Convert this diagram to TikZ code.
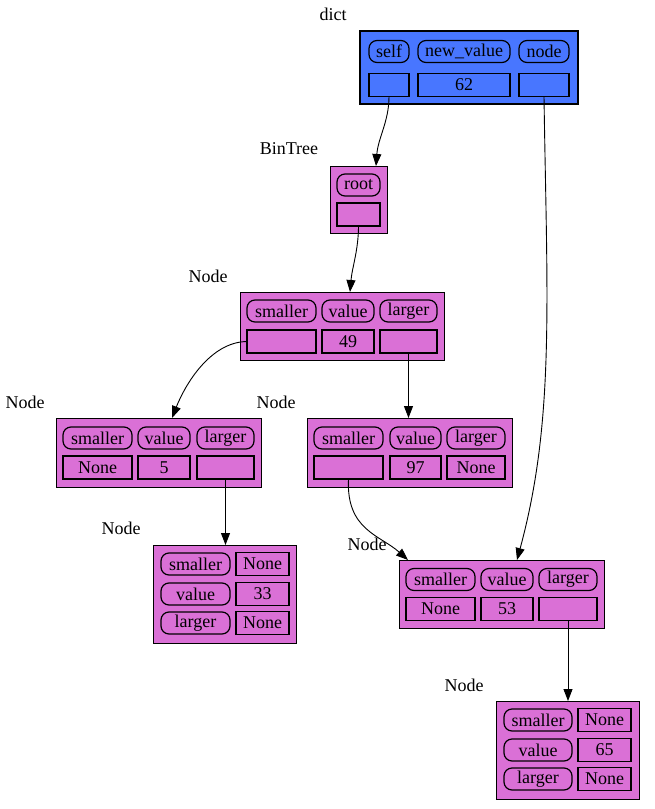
\documentclass[tikz,border=0pt]{standalone}
\usepackage{fontspec}
\setmainfont{Liberation Serif}
\usetikzlibrary{arrows.meta}
\definecolor{dictblue}{HTML}{4876FF}
\definecolor{objfill}{HTML}{DA70D6}
\tikzset{
  lbl/.style={font=\fontsize{18}{20}\selectfont},
  obj/.style={draw, line width=1pt, fill=objfill, inner sep=0pt, outer sep=0pt},
  pill/.style={draw, rounded corners=8pt, line width=1.2pt, inner sep=0pt, outer sep=0pt, minimum height=22pt, font=\fontsize{18}{20}\selectfont},
  cell/.style={draw, line width=1.4pt, inner sep=0pt, outer sep=0pt, minimum height=23pt, font=\fontsize{18}{20}\selectfont},
  link/.style={-{Triangle[length=12pt,width=9pt]}, line width=0.9pt}
}
\begin{document}
\begin{tikzpicture}[x=1pt, y=-1pt]
\useasboundingbox (0,0) rectangle (654,809);

\node[lbl] (ldict) at (333,14) {dict};
\node[obj, fill=dictblue, line width=2pt, minimum width=218pt, minimum height=73pt] (dict) at (469,67.5) {};
\node[pill, minimum width=40pt] (dselfk) at (389,51.5) {self};
\node[pill, minimum width=92pt] (dnewk) at (464,51.5) {new\_value};
\node[pill, minimum width=50pt] (dnodek) at (544,51.5) {node};
\node[cell, minimum width=40pt] (dselfv) at (389,85) {};
\node[cell, minimum width=92pt] (dnewv) at (464,85) {62};
\node[cell, minimum width=50pt] (dnodev) at (544,85) {};

\node[lbl] (lbt) at (289,149) {BinTree};
\node[obj, minimum width=57pt, minimum height=67pt] (bt) at (358.5,199.5) {};
\node[pill, minimum width=43pt] (btrootk) at (358.5,185) {root};
\node[cell, minimum width=43pt] (btrootv) at (358.5,214.5) {};

\node[lbl] (l49) at (208,276) {Node};
\node[obj, minimum width=204pt, minimum height=68pt] (n49) at (342,326) {};
\node[pill, minimum width=69pt] (n49sk) at (281.5,311) {smaller};
\node[pill, minimum width=52pt] (n49vk) at (348,311) {value};
\node[pill, minimum width=57pt] (n49lk) at (408.5,311) {larger};
\node[cell, minimum width=69pt] (n49sv) at (281.5,341.5) {};
\node[cell, minimum width=52pt] (n49vv) at (348,341.5) {49};
\node[cell, minimum width=57pt] (n49lv) at (408.5,341.5) {};

\node[lbl] (l5) at (25,402) {Node};
\node[obj, minimum width=205pt, minimum height=69pt] (n5) at (158.5,452.5) {};
\node[pill, minimum width=69pt] (n5sk) at (97.5,438) {smaller};
\node[pill, minimum width=52pt] (n5vk) at (164,438) {value};
\node[pill, minimum width=57pt] (n5lk) at (225.5,438) {larger};
\node[cell, minimum width=69pt] (n5sv) at (97.5,467.5) {None};
\node[cell, minimum width=52pt] (n5vv) at (164,467.5) {5};
\node[cell, minimum width=57pt] (n5lv) at (225.5,467.5) {};

\node[lbl] (l97) at (276,402) {Node};
\node[obj, minimum width=205pt, minimum height=69pt] (n97) at (409.5,452.5) {};
\node[pill, minimum width=69pt] (n97sk) at (348.5,438) {smaller};
\node[pill, minimum width=51pt] (n97vk) at (415.5,438) {value};
\node[pill, minimum width=58pt] (n97lk) at (476,438) {larger};
\node[cell, minimum width=69pt] (n97sv) at (348.5,467.5) {};
\node[cell, minimum width=51pt] (n97vv) at (415.5,467.5) {97};
\node[cell, minimum width=58pt] (n97lv) at (476,467.5) {None};

\node[lbl] (l33) at (121,528) {Node};
\node[obj, minimum width=143pt, minimum height=98pt] (n33) at (224.5,594) {};
\node[pill, minimum width=69pt] (n33sk) at (195.5,564) {smaller};
\node[pill, minimum width=69pt] (n33vk) at (195.5,594) {value};
\node[pill, minimum width=69pt] (n33lk) at (195.5,623) {larger};
\node[cell, minimum width=53pt] (n33sv) at (262.5,564) {None};
\node[cell, minimum width=53pt] (n33vv) at (262.5,594) {33};
\node[cell, minimum width=53pt] (n33lv) at (262.5,623) {None};

\node[lbl] (l53) at (367,544) {Node};
\node[obj, minimum width=205pt, minimum height=68pt] (n53) at (501.5,594) {};
\node[pill, minimum width=69pt] (n53sk) at (440.5,579.5) {smaller};
\node[pill, minimum width=52pt] (n53vk) at (507,579.5) {value};
\node[pill, minimum width=58pt] (n53lk) at (568,579.5) {larger};
\node[cell, minimum width=69pt] (n53sv) at (440.5,609) {None};
\node[cell, minimum width=52pt] (n53vv) at (507,609) {53};
\node[cell, minimum width=58pt] (n53lv) at (568,609) {};

\node[lbl] (l65) at (464,685) {Node};
\node[obj, minimum width=143pt, minimum height=98pt] (n65) at (567.5,750) {};
\node[pill, minimum width=68pt] (n65sk) at (538,720) {smaller};
\node[pill, minimum width=68pt] (n65vk) at (538,750) {value};
\node[pill, minimum width=68pt] (n65lk) at (538,779) {larger};
\node[cell, minimum width=53pt] (n65sv) at (604.5,720) {None};
\node[cell, minimum width=53pt] (n65vv) at (604.5,750) {65};
\node[cell, minimum width=53pt] (n65lv) at (604.5,779) {None};

\draw[link] (dselfv.south) .. controls +(0,25) and +(2,-28) .. ([xshift=17.5pt]bt.north);
\draw[link] (dnodev.south) .. controls (547,300) and (555,420) .. ([xshift=15.5pt]n53.north);
\draw[link] (btrootv.south) .. controls +(0,24) and +(2,-24) .. ([xshift=8pt]n49.north);
\draw[link] (n49sv.west) .. controls (210,342) and (185,385) .. ([xshift=13.5pt]n5.north);
\draw[link] (n49lv.south) -- (n49lv.south |- n97.north);
\draw[link] (n5lv.south) -- (n5lv.south |- n33.north);
\draw[link] (n97sv.south) .. controls (346,530) and (380,535) .. ([xshift=9pt]n53.north west);
\draw[link] (n53lv.south) -- (n53lv.south |- n65.north);
\end{tikzpicture}
\end{document}
